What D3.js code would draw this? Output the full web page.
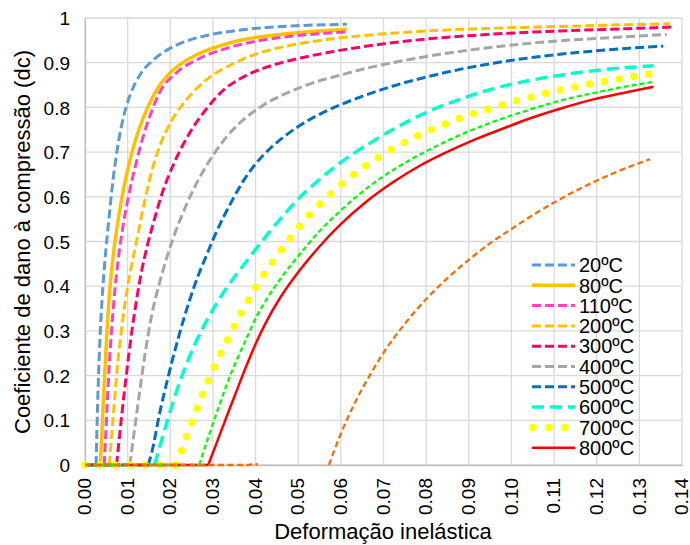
<!DOCTYPE html>
<html><head><meta charset="utf-8">
<script src="https://cdn.jsdelivr.net/npm/d3@7"></script>
<style>
html,body{margin:0;padding:0;background:#fff;}
svg{display:block;font-family:"Liberation Sans",Arial,sans-serif;}
</style></head>
<body>
<svg id="chart" width="690" height="545"></svg>
<script>
// ---------- DATA ----------
const seriesNames = ["20ºC","80ºC","110ºC","200ºC","300ºC","400ºC","500ºC","600ºC","700ºC","800ºC","extra1","extra2a","extra2b"];
const xTicks = [0,0.01,0.02,0.03,0.04,0.05,0.06,0.07,0.08,0.09,0.10,0.11,0.12,0.13,0.14];
const xTickLabels = ["0.00","0.01","0.02","0.03","0.04","0.05","0.06","0.07","0.08","0.09","0.10","0.11","0.12","0.13","0.14"];
const yTicks = [0,0.1,0.2,0.3,0.4,0.5,0.6,0.7,0.8,0.9,1];
const yTickLabels = ["0","0.1","0.2","0.3","0.4","0.5","0.6","0.7","0.8","0.9","1"];

const x20 = [0,0.0026,0.0028,0.0031,0.0035,0.0040,0.0047,0.0056,0.0066,0.0078,0.0092,0.0108,0.0129,0.016,0.0199,0.0246,0.0301,0.0364,0.0426,0.0504,0.0614];
const y20 = [0,0,0.08,0.18,0.28,0.37,0.46,0.55,0.64,0.72,0.785,0.833,0.873,0.906,0.932,0.951,0.964,0.973,0.979,0.983,0.986];

const x80 = [0,0.0036,0.0040,0.0045,0.0051,0.0058,0.0067,0.0078,0.0092,0.0108,0.0127,0.0148,0.0172,0.0199,0.0254,0.0317,0.0379,0.0457,0.0535,0.0614];
const y80 = [0,0,0.08,0.18,0.29,0.39,0.475,0.55,0.625,0.692,0.752,0.802,0.845,0.877,0.914,0.938,0.953,0.963,0.970,0.975];

const x110 = [0,0.0045,0.0048,0.0052,0.0057,0.0063,0.0071,0.0080,0.0091,0.0104,0.0119,0.0135,0.0152,0.0176,0.0215,0.027,0.0332,0.0395,0.0473,0.0551,0.0614];
const y110 = [0,0,0.055,0.135,0.225,0.31,0.40,0.475,0.545,0.61,0.672,0.73,0.78,0.835,0.878,0.91,0.932,0.947,0.958,0.965,0.969];

const x200 = [0,0.0057,0.0062,0.0068,0.0075,0.0084,0.0095,0.0108,0.0125,0.0141,0.0156,0.0176,0.0203,0.0236,0.0285,0.0348,0.041,0.0489,0.0567,0.0645,0.0801,0.0958,0.1114,0.127,0.1372];
const y200 = [0,0,0.06,0.13,0.21,0.29,0.37,0.44,0.52,0.595,0.655,0.715,0.77,0.815,0.862,0.898,0.922,0.94,0.952,0.96,0.971,0.977,0.981,0.985,0.987];

const x300 = [0,0.0074,0.0086,0.0098,0.0110,0.0121,0.0133,0.0146,0.0160,0.0180,0.0211,0.0250,0.0285,0.0324,0.0371,0.0426,0.0481,0.0582,0.0684,0.0801,0.0958,0.1114,0.127,0.138];
const y300 = [0,0,0.11,0.21,0.30,0.37,0.435,0.49,0.54,0.605,0.68,0.75,0.797,0.838,0.868,0.89,0.905,0.925,0.94,0.953,0.964,0.971,0.976,0.98];

const x400 = [0,0.0105,0.0110,0.0117,0.0129,0.0141,0.0156,0.0176,0.0207,0.0235,0.0266,0.0301,0.0332,0.0371,0.0418,0.0473,0.0535,0.0598,0.0645,0.0801,0.0958,0.1114,0.127,0.1364];
const y400 = [0,0,0.035,0.085,0.17,0.25,0.333,0.412,0.508,0.576,0.638,0.694,0.734,0.772,0.805,0.832,0.855,0.872,0.884,0.914,0.935,0.949,0.958,0.963];

const x500 = [0,0.0148,0.0156,0.0176,0.0197,0.0219,0.0245,0.0268,0.0281,0.0301,0.0324,0.0348,0.0371,0.0403,0.0434,0.0473,0.052,0.0575,0.0645,0.0723,0.0801,0.0879,0.0958,0.1036,0.1114,0.1192,0.127,0.1356];
const y500 = [0,0,0.026,0.12,0.205,0.285,0.368,0.43,0.46,0.506,0.553,0.597,0.635,0.677,0.708,0.739,0.769,0.796,0.823,0.848,0.868,0.885,0.899,0.91,0.919,0.926,0.932,0.937];

const x600 = [0,0.0163,0.0172,0.0195,0.0223,0.0254,0.0293,0.0332,0.0383,0.0418,0.0457,0.0504,0.0543,0.059,0.0635,0.0668,0.0723,0.0801,0.0879,0.0958,0.1036,0.1114,0.1192,0.127,0.1333];
const y600 = [0,0,0.03,0.105,0.188,0.262,0.336,0.396,0.461,0.504,0.549,0.599,0.633,0.67,0.70,0.72,0.751,0.789,0.818,0.842,0.859,0.872,0.882,0.889,0.893];

const x700 = [0,0.0215,0.0225,0.0249,0.0274,0.0301,0.0332,0.0364,0.04,0.0439,0.0481,0.0528,0.0581,0.0637,0.0696,0.076,0.0827,0.0895,0.0966,0.1036,0.1106,0.1177,0.1249,0.1325];
const y700 = [0,0,0.028,0.091,0.154,0.215,0.276,0.336,0.397,0.453,0.507,0.561,0.611,0.655,0.693,0.727,0.756,0.781,0.802,0.821,0.837,0.851,0.863,0.875];

const x800 = [0,0.0289,0.0309,0.0332,0.0356,0.0379,0.0403,0.0426,0.0457,0.0504,0.0551,0.0598,0.0661,0.0723,0.0786,0.0848,0.0911,0.0973,0.1036,0.1114,0.1192,0.127,0.1333];
const y800 = [0,0,0.05,0.108,0.167,0.223,0.277,0.322,0.373,0.436,0.49,0.537,0.59,0.633,0.67,0.70,0.727,0.75,0.773,0.797,0.818,0.834,0.846];

const xGreen = [0,0.0268,0.0277,0.0293,0.0313,0.0332,0.0356,0.0379,0.0403,0.043,0.0461,0.0504,0.0551,0.0598,0.0645,0.07,0.0754,0.0817,0.0879,0.0958,0.1036,0.1114,0.1192,0.127,0.1333];
const yGreen = [0,0,0.027,0.073,0.128,0.179,0.235,0.284,0.333,0.377,0.42,0.472,0.524,0.568,0.607,0.646,0.678,0.71,0.738,0.768,0.793,0.815,0.832,0.847,0.857];

const xOrangeA = [0,0.0385,0.0398,0.0405];
const yOrangeA = [0,0,0.004,0];
const xOrangeB = [0.0572,0.06,0.0635,0.067,0.07,0.075,0.0801,0.085,0.09,0.095,0.1,0.105,0.11,0.115,0.12,0.125,0.1325];
const yOrangeB = [0,0.07,0.143,0.204,0.251,0.316,0.372,0.418,0.459,0.496,0.528,0.559,0.587,0.613,0.636,0.657,0.684];

// ---------- STYLES ----------
const styles = [
  {color:"#5B9BD5", w:3,   dash:"9,4"},
  {color:"#FFC000", w:3.5, dash:null},
  {color:"#FF3FC8", w:3,   dash:"9,4"},
  {color:"#FFC000", w:3,   dash:"9,4"},
  {color:"#FF0066", w:3,   dash:"9,4"},
  {color:"#A5A5A5", w:3,   dash:"9,4"},
  {color:"#0070C0", w:3,   dash:"9,4"},
  {color:"#00FFCC", w:3.5, dash:"12,6"},
  {color:"#FFFF00", w:7.5, dash:"0,15", cap:"round"},
  {color:"#FF0000", w:2.5, dash:null},
  {color:"#00FF00", w:2.3, dash:"5,3"},
  {color:"#FF6A00", w:2.3, dash:"6,3.5"},
  {color:"#FF6A00", w:2.3, dash:"6,3.5"}
];
const xsAll = [x20,x80,x110,x200,x300,x400,x500,x600,x700,x800,xGreen,xOrangeA,xOrangeB];
const ysAll = [y20,y80,y110,y200,y300,y400,y500,y600,y700,y800,yGreen,yOrangeA,yOrangeB];

// ---------- CHART ----------
const L=85, R=682, T=18, B=465;
const svg = d3.select("#chart");
const x = d3.scaleLinear().domain([0,0.14]).range([L,R]);
const y = d3.scaleLinear().domain([0,1]).range([B,T]);

// gridlines
const grid = svg.append("g");
grid.selectAll("line.v").data(xTicks).join("line")
  .attr("x1",d=>x(d)).attr("x2",d=>x(d)).attr("y1",T).attr("y2",B)
  .attr("stroke","#d9d9d9").attr("stroke-width",1.3);
grid.selectAll("line.h").data(yTicks).join("line")
  .attr("x1",L).attr("x2",R).attr("y1",d=>y(d)).attr("y2",d=>y(d))
  .attr("stroke","#d9d9d9").attr("stroke-width",1.3);

// axes
const xAxis = d3.axisBottom(x).tickValues(xTicks).tickSize(0).tickFormat((d,i)=>xTickLabels[i]);
const yAxis = d3.axisLeft(y).tickValues(yTicks).tickSize(0).tickFormat((d,i)=>yTickLabels[i]);
const gx = svg.append("g").attr("transform",`translate(0,${B})`).call(xAxis);
gx.select(".domain").attr("stroke","#bfbfbf").attr("stroke-width",1.3);
gx.selectAll("text").attr("font-size",19).attr("fill","#000")
  .attr("font-family","Liberation Sans, Arial, sans-serif")
  .attr("transform","rotate(-90)").attr("text-anchor","end")
  .attr("x",-13).attr("y",-1).attr("dy","0.35em");
const gy = svg.append("g").attr("transform",`translate(${L},0)`).call(yAxis);
gy.select(".domain").attr("stroke","#bfbfbf").attr("stroke-width",1.3);
gy.selectAll("text").attr("font-size",19).attr("fill","#000")
  .attr("font-family","Liberation Sans, Arial, sans-serif")
  .attr("x",-15).attr("dy","0.35em");

// lines: flat zero part drawn straight, rising part smoothed
const lineSmooth = d3.line().x(d=>x(d[0])).y(d=>y(d[1])).curve(d3.curveMonotoneX);
const lineLin = d3.line().x(d=>x(d[0])).y(d=>y(d[1]));
const gl = svg.append("g");
function drawPath(d, st){
  gl.append("path").attr("d", d)
    .attr("fill","none").attr("stroke",st.color).attr("stroke-width",st.w)
    .attr("stroke-dasharray",st.dash)
    .attr("stroke-linecap",st.cap||"butt").attr("stroke-linejoin","round");
}
xsAll.forEach((xs,i)=>{
  const pts = xs.map((v,j)=>[v, ysAll[i][j]]);
  const st = styles[i];
  if(i===11){ drawPath(lineLin(pts), st); return; }
  let k = 0;
  while(k+1 < pts.length && pts[k+1][1]===0) k++;
  if(k>0) drawPath(lineLin(pts.slice(0,k+1)), st);
  drawPath(lineSmooth(pts.slice(k)), st);
});

// legend
const lg = svg.append("g");
for(let i=0;i<10;i++){
  const yy = 265 + i*20.3;
  const st = styles[i];
  lg.append("line").attr("x1", i===8?533:532).attr("x2",575).attr("y1",yy).attr("y2",yy)
    .attr("stroke",st.color).attr("stroke-width",st.w)
    .attr("stroke-dasharray", i===8 ? "0,16" : st.dash)
    .attr("stroke-linecap",st.cap||"butt");
  lg.append("text").attr("x",579).attr("y",yy).attr("dy","0.36em")
    .attr("font-size",20).attr("fill","#000").text(seriesNames[i]);
}

// axis titles
svg.append("text").attr("x",383).attr("y",539).attr("text-anchor","middle")
  .attr("font-size",22).attr("fill","#000").text("Deformação inelástica");
svg.append("text").attr("transform","translate(30,242) rotate(-90)").attr("text-anchor","middle")
  .attr("font-size",22).attr("fill","#000").text("Coeficiente de dano à compressão (dc)");
</script>
</body></html>
